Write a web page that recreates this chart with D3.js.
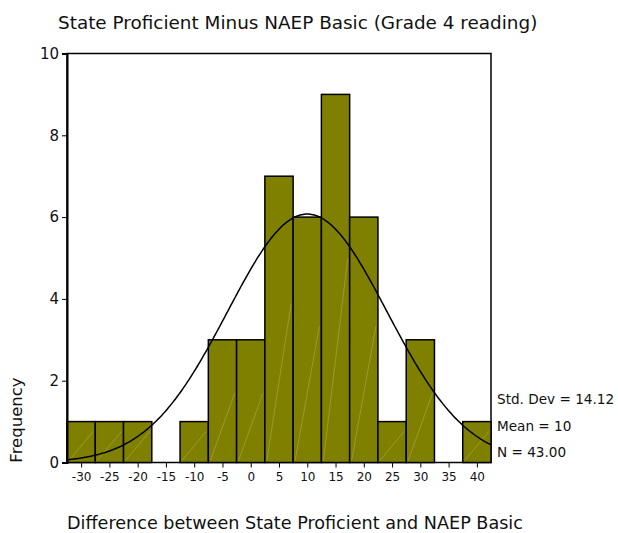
<!DOCTYPE html>
<html><head><meta charset="utf-8">
<script src="https://cdn.jsdelivr.net/npm/d3@7"></script>
<style>body{margin:0;background:#fff}svg{display:block}text{font-family:"DejaVu Sans",sans-serif;fill:#111}</style>
</head><body><svg id="c" width="618" height="533"></svg>
<script>
const binCenters = [-30,-25,-20,-15,-10,-5,0,5,10,15,20,25,30,35,40];
const counts     = [1,1,1,0,1,3,3,7,6,9,6,1,3,0,1];
const yTicks = [0,2,4,6,8,10];
const xTicks = [-30,-25,-20,-15,-10,-5,0,5,10,15,20,25,30,35,40];
const stats = {sd:14.12, mean:10, n:43};
const binWidth = 5;
const statLabels = ["Std. Dev = 14.12","Mean = 10","N = 43.00"];

const svg = d3.select("#c");
const x = d3.scaleLinear().domain([-32.5,42.5]).range([67,491]);
const y = d3.scaleLinear().domain([0,10]).range([462.5,53.5]);

svg.append("text").attr("x",58).attr("y",29).style("font-size","18.4px").text("State Proficient Minus NAEP Basic (Grade 4 reading)");

// frame
svg.append("rect").attr("x",67).attr("y",53.5).attr("width",424).attr("height",409).attr("fill","none").attr("stroke","#000").attr("stroke-width",1.5);

// bars
const data = binCenters.map((c,i)=>({c,v:counts[i]})).filter(d=>d.v>0);
const g = svg.append("g");
g.selectAll("rect.bar").data(data).join("rect").attr("class","bar")
 .attr("x",d=>x(d.c-binWidth/2)).attr("width",d=>x(d.c+binWidth/2)-x(d.c-binWidth/2))
 .attr("y",d=>y(d.v)).attr("height",d=>y(0)-y(d.v))
 .attr("fill","#808000").attr("stroke","#000").attr("stroke-width",1.5);
// faint diagonal lines
g.selectAll("line.hatch").data(data).join("line").attr("class","hatch")
 .attr("x1",d=>x(d.c-binWidth/2)+2).attr("y1",y(0)-2)
 .attr("x2",d=>x(d.c+binWidth/2)-2).attr("y2",d=>Math.max(y(d.v)+2, y(0)-2-(x(d.c+binWidth/2)-x(d.c-binWidth/2)-4)*1.2*Math.max(1,d.v/1.3)))
 .attr("stroke","#c8c890").attr("stroke-width",0.6).attr("opacity",0.6);

// normal curve
const pts = d3.range(-32.5,42.51,0.25).map(v=>[v, stats.n*binWidth/(stats.sd*Math.sqrt(2*Math.PI))*Math.exp(-0.5*((v-stats.mean)/stats.sd)**2)]);
svg.append("path").datum(pts).attr("d",d3.line().x(d=>x(d[0])).y(d=>y(d[1])))
 .attr("fill","none").attr("stroke","#000").attr("stroke-width",1.5);

// axes
const ya = svg.append("g").attr("transform","translate(67,0)").call(d3.axisLeft(y).tickValues(yTicks).tickSize(5).tickPadding(3));
ya.select(".domain").attr("stroke-width",2);
ya.selectAll("text").style("font-size","15px").style("font-family","DejaVu Sans");
const xa = svg.append("g").attr("transform","translate(0,462.5)").call(d3.axisBottom(x).tickValues(xTicks).tickFormat(d=>String(d)).tickSize(5).tickPadding(5));
xa.select(".domain").remove();
xa.selectAll("text").style("font-size","12px").style("font-family","DejaVu Sans");

svg.append("text").attr("transform","translate(22,420) rotate(-90)").attr("text-anchor","middle").style("font-size","16.5px").text("Frequency");
svg.append("text").attr("x",67).attr("y",529).style("font-size","17.6px").text("Difference between State Proficient and NAEP Basic");

svg.selectAll("text.stat").data(statLabels).join("text").attr("class","stat")
 .attr("x",497).attr("y",(d,i)=>404+i*26.5).style("font-size","13.6px").text(d=>d);
</script></body></html>
